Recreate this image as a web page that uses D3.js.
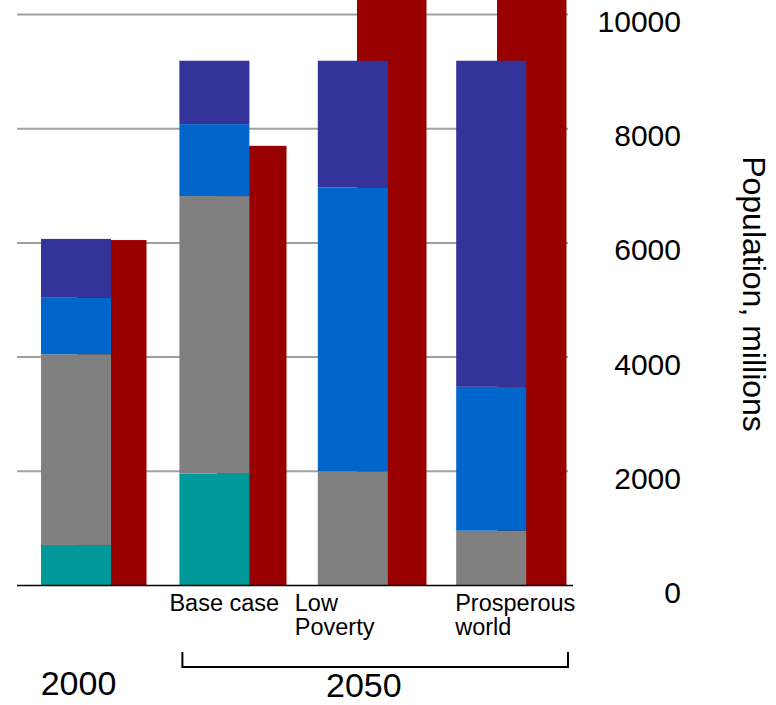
<!DOCTYPE html>
<html>
<head>
<meta charset="utf-8">
<script src="https://cdn.jsdelivr.net/npm/d3@7/dist/d3.min.js"></script>
<style>
  html, body { margin: 0; padding: 0; background: #fff; }
  svg { display: block; font-family: "Liberation Sans", Arial, sans-serif; }
</style>
</head>
<body>
<svg id="chart" width="776" height="705"></svg>
<script>
// Scenario categories (first is the 2000 baseline)
const categories = ["2000", "Base case", "Low Poverty", "Prosperous world"];
const categoryLabels = [[], ["Base case"], ["Low", "Poverty"], ["Prosperous", "world"]];

// Population by income group, millions (stacked, bottom to top)
const stackKeys = ["teal", "gray", "blue", "navy"];
const tealValues = [710, 1960, 0, 0];
const grayValues = [3340, 4860, 2000, 960];
const blueValues = [990, 1260, 4970, 2520];
const navyValues = [1030, 1110, 2220, 5710];

// Comparison series drawn beside each stack
const redValues = [6050, 7700, 11200, 11600];

const yTicks = [0, 2000, 4000, 6000, 8000, 10000];
const yTitle = "Population, millions";
const yearLabels = ["2000", "2050"];

const colors = { teal: "#009999", gray: "#808080", blue: "#0066cc", navy: "#333399", red: "#990000" };

const svg = d3.select("#chart");

// Stacks and comparison bars sit on slightly different pitches
const x = d3.scaleBand().domain(categories).range([17, 17 + 4 * 138.4]).padding(0);
const xRed = d3.scaleBand().domain(categories).range([77, 77 + 4 * 140]).padding(0);
const y = d3.scaleLinear().domain([0, 10000]).range([585.5, 14.5]);

const stackW = 70, stackOff = 24, redW = 69.5;

// Gridlines
svg.append("g").selectAll("line")
  .data(yTicks.filter(t => t > 0))
  .join("line")
  .attr("x1", 17).attr("x2", 568)
  .attr("y1", d => y(d)).attr("y2", d => y(d))
  .attr("stroke", "#a0a0a0").attr("stroke-width", 2);

// Red bars (behind the stacks)
svg.append("g").selectAll("rect")
  .data(categories)
  .join("rect")
  .attr("x", d => xRed(d))
  .attr("width", redW)
  .attr("y", (d, i) => y(redValues[i]))
  .attr("height", (d, i) => y(0) - y(redValues[i]))
  .attr("fill", colors.red);

// Stacked bars
const rows = categories.map((c, i) => ({
  cat: c, teal: tealValues[i], gray: grayValues[i], blue: blueValues[i], navy: navyValues[i]
}));
const series = d3.stack().keys(stackKeys)(rows);
svg.append("g").selectAll("g")
  .data(series)
  .join("g")
  .attr("fill", s => colors[s.key])
  .selectAll("rect")
  .data(s => s.filter(p => p[1] > p[0]))
  .join("rect")
  .attr("x", p => x(p.data.cat) + stackOff)
  .attr("width", stackW)
  .attr("y", p => y(p[1]))
  .attr("height", p => y(p[0]) - y(p[1]));

// Baseline axis
svg.append("line")
  .attr("x1", 17).attr("x2", 573)
  .attr("y1", y(0)).attr("y2", y(0))
  .attr("stroke", "#000").attr("stroke-width", 1.5);

// Right-hand value axis labels
const yAxis = d3.axisRight(y).tickValues(yTicks).tickSize(0).tickPadding(0).tickFormat(d3.format("d"));
const yg = svg.append("g").attr("transform", "translate(681,0)").call(yAxis);
yg.select(".domain").remove();
yg.selectAll("text")
  .attr("text-anchor", "end")
  .attr("dy", null)
  .attr("y", 17)
  .attr("x", 0)
  .attr("font-size", 30)
  .attr("font-family", "Liberation Sans, Arial, sans-serif")
  .attr("fill", "#000");

// Axis title
svg.append("text")
  .attr("transform", `translate(${743},${294}) rotate(90)`)
  .attr("text-anchor", "middle")
  .attr("font-size", 32)
  .attr("fill", "#000")
  .text(yTitle);

// Category labels
const labelNudge = [0, 14, 1, 23];
categoryLabels.forEach((lines, i) => {
  const t = svg.append("text")
    .attr("font-size", 23.5)
    .attr("fill", "#000");
  lines.forEach((ln, j) => {
    t.append("tspan")
      .attr("x", x(categories[i]) + labelNudge[i])
      .attr("y", 611 + j * 24)
      .text(ln);
  });
});

// Bracket grouping the 2050 scenarios
const bx0 = x(categories[1]) + 27, bx1 = xRed(categories[3]) + 71;
svg.append("path")
  .attr("d", `M${bx0},652V667H${bx1}V652`)
  .attr("fill", "none").attr("stroke", "#000").attr("stroke-width", 2);

// Year labels
svg.append("text")
  .attr("x", x(categories[0]) + 61.5).attr("y", 695)
  .attr("text-anchor", "middle").attr("font-size", 34).attr("fill", "#000")
  .text(yearLabels[0]);
svg.append("text")
  .attr("x", x(categories[2]) + 70).attr("y", 697)
  .attr("text-anchor", "middle").attr("font-size", 34).attr("fill", "#000")
  .text(yearLabels[1]);
</script>
</body>
</html>
